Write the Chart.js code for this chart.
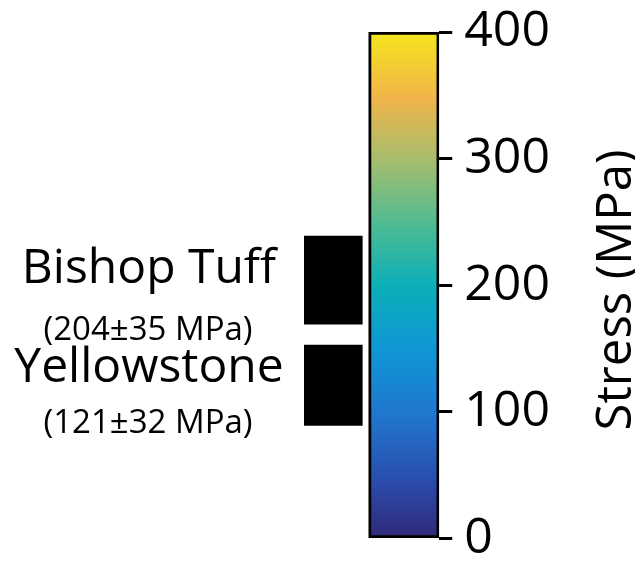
<!DOCTYPE html>
<html>
<head>
<meta charset="utf-8">
<title>Stress</title>
<script src="https://cdn.jsdelivr.net/npm/chart.js@4/dist/chart.umd.min.js"></script>
<style>
  html, body { margin: 0; padding: 0; background: #fff; }
  #wrap { width: 635px; height: 563px; position: relative; }
</style>
</head>
<body>
<div id="wrap"><canvas id="stressChart"></canvas></div>
<script>
// Estimated stress per caldera (mean and spread, MPa)
const siteNames = ["Bishop Tuff", "Yellowstone"];
const stressMean = [204, 121];
const stressSpread = [35, 32];

// Colour scale range and its tick labels
const scaleRange = [0, 400];
const tickValues = [0, 100, 200, 300, 400];
const axisTitle = "Stress (MPa)";

// Parula-like colour stops, bottom to top
const parulaStops = [
  [0.0, "#312878"],
  [0.12, "#2a4fb0"],
  [0.25, "#1f78cf"],
  [0.37, "#0f96d6"],
  [0.5, "#0cafb8"],
  [0.62, "#4fbb93"],
  [0.75, "#a8bd6c"],
  [0.87, "#f2b44a"],
  [1.0, "#f5e61c"],
];

const FONT = "'Open Sans', 'Noto Sans', sans-serif";

function colourbarFill(ctx) {
  const chart = ctx.chart;
  const area = chart.chartArea;
  if (!area) return "#0cafb8";
  const y = chart.scales.y;
  const g = chart.ctx.createLinearGradient(
    0, y.getPixelForValue(scaleRange[0]),
    0, y.getPixelForValue(scaleRange[1])
  );
  parulaStops.forEach(([p, c]) => g.addColorStop(p, c));
  return g;
}

// Site names, stated values and the rotated axis title
const sideLabels = {
  id: "sideLabels",
  afterDraw(chart) {
    const c = chart.ctx;
    c.save();
    c.fillStyle = "#000";
    c.textAlign = "center";
    c.textBaseline = "alphabetic";
    const rows = [
      { name: 283, value: 340 },
      { name: 382, value: 433 },
    ];
    siteNames.forEach((name, i) => {
      c.font = "48px " + FONT;
      c.fillText(name, 149, rows[i].name);
      c.font = "33px " + FONT;
      c.fillText("(" + stressMean[i] + "\u00b1" + stressSpread[i] + " MPa)", 148, rows[i].value);
    });
    c.translate(631, 290);
    c.rotate(-Math.PI / 2);
    c.font = "49px " + FONT;
    c.fillText(axisTitle, 0, 0);
    c.restore();
  },
};

const barData = siteNames.map((name, i) => ({
  label: name,
  data: [[stressMean[i] - stressSpread[i], stressMean[i] + stressSpread[i]], null],
  backgroundColor: "#000",
  borderWidth: 0,
  barPercentage: 0.83,
  categoryPercentage: 1,
  grouped: false,
}));

new Chart(document.getElementById("stressChart"), {
  type: "bar",
  data: {
    labels: ["sites", "scale"],
    datasets: [
      ...barData,
      {
        label: axisTitle,
        data: [null, scaleRange],
        backgroundColor: colourbarFill,
        borderColor: "#000",
        borderWidth: 3,
        borderSkipped: false,
        barPercentage: 1,
        categoryPercentage: 1,
        grouped: false,
      },
    ],
  },
  options: {
    responsive: true,
    maintainAspectRatio: false,
    animation: false,
    layout: { padding: { left: 298, right: 73, top: 32, bottom: 16 } },
    plugins: {
      legend: { display: false },
      tooltip: { enabled: false },
    },
    scales: {
      x: { display: false },
      y: {
        position: "right",
        min: scaleRange[0],
        max: scaleRange[1],
        afterBuildTicks: (axis) => {
          axis.ticks = tickValues.map((v) => ({ value: v }));
        },
        border: { display: false },
        grid: {
          drawOnChartArea: false,
          tickLength: 13,
          tickWidth: 3,
          tickColor: "#000",
        },
        ticks: {
          color: "#000",
          padding: 12,
          font: { family: FONT, size: 50, lineHeight: 0.5 },
        },
      },
    },
  },
  plugins: [sideLabels],
});
</script>
</body>
</html>
